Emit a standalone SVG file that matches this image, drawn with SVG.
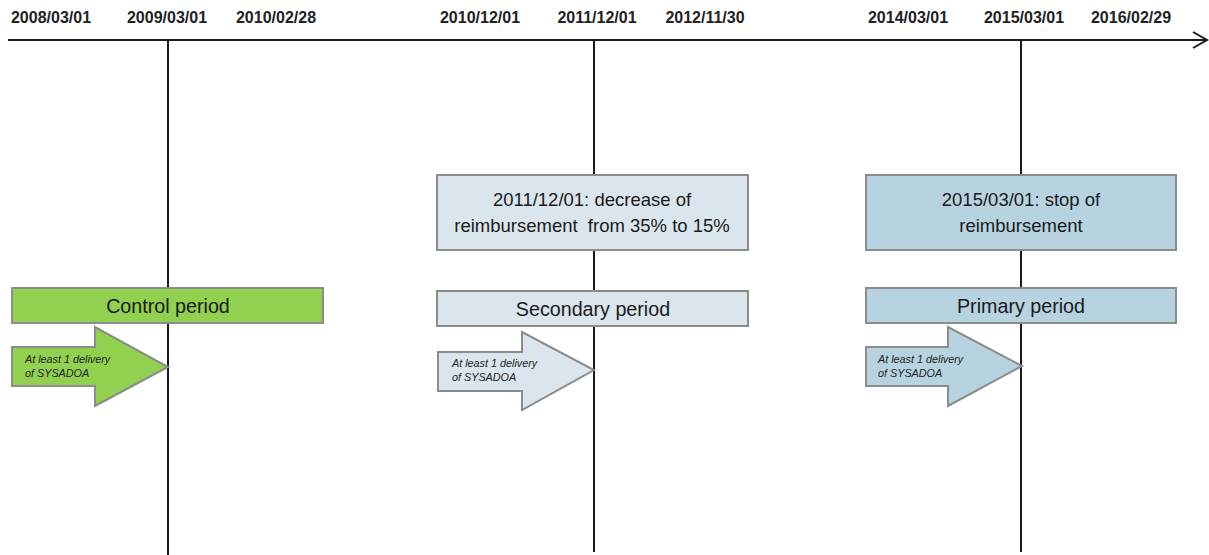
<svg xmlns="http://www.w3.org/2000/svg" width="1209" height="555" viewBox="0 0 1209 555">
<style>
.date{font-family:"Liberation Sans",Arial,sans-serif;font-weight:bold;font-size:16px;fill:#222;text-anchor:middle}
.line{stroke:#1a1a1a;stroke-width:2;fill:none}
.box{stroke:#8c8c8c;stroke-width:2}
.green{fill:#92d050}
.sec{fill:#dae5ed}
.pri{fill:#b7d3e0}
.lbl{font-family:"Liberation Sans",Arial,sans-serif;font-size:19.7px;fill:#1a1a1a;text-anchor:middle}
.evt{font-family:"Liberation Sans",Arial,sans-serif;font-size:18.5px;fill:#1a1a1a;text-anchor:middle}
.it{font-family:"Liberation Sans",Arial,sans-serif;font-style:italic;font-size:10.8px;fill:#222}
</style>
<rect width="1209" height="555" fill="#fff"/>
<g id="connectors">
<line class="line" x1="8" y1="40" x2="1206" y2="40" stroke-width="1.8"/>
<polyline class="line" points="1193,32 1207,40 1193,48" stroke-width="1.8"/>
<line class="line" x1="168" y1="41" x2="168" y2="555"/>
<line class="line" x1="594" y1="41" x2="594" y2="552"/>
<line class="line" x1="1021" y1="41" x2="1021" y2="552"/>
</g>
<g id="dates">
<text class="date" x="51" y="23">2008/03/01</text>
<text class="date" x="167" y="23">2009/03/01</text>
<text class="date" x="276" y="23">2010/02/28</text>
<text class="date" x="480" y="23">2010/12/01</text>
<text class="date" x="597" y="23">2011/12/01</text>
<text class="date" x="705" y="23">2012/11/30</text>
<text class="date" x="908" y="23">2014/03/01</text>
<text class="date" x="1024" y="23">2015/03/01</text>
<text class="date" x="1131" y="23">2016/02/29</text>
</g>
<g id="control-period">
<rect class="box green" x="12" y="288" width="311" height="35"/>
<text class="lbl" x="168" y="313">Control period</text>
</g>
<g id="control-arrow">
<polygon class="box green" points="12,347 95,347 95,327 168,367 95,406 95,386 12,386" stroke-width="1.5"/>
<text class="it" x="25" y="363">At least 1 delivery</text>
<text class="it" x="25" y="377">of SYSADOA</text>
</g>
<g id="decrease-event">
<rect class="box sec" x="437" y="175" width="311" height="75"/>
<text class="evt" x="592" y="206">2011/12/01: decrease of</text>
<text class="evt" x="592" y="232" xml:space="preserve">reimbursement  from 35% to 15%</text>
</g>
<g id="secondary-period">
<rect class="box sec" x="437" y="291" width="311" height="35"/>
<text class="lbl" x="593" y="316">Secondary period</text>
</g>
<g id="secondary-arrow">
<polygon class="box sec" points="438,352 522,352 522,332 594,370 522,410 522,391 438,391" stroke-width="1.5"/>
<text class="it" x="452" y="367">At least 1 delivery</text>
<text class="it" x="452" y="381">of SYSADOA</text>
</g>
<g id="stop-event">
<rect class="box pri" x="866" y="175" width="310" height="75"/>
<text class="evt" x="1021" y="206">2015/03/01: stop of</text>
<text class="evt" x="1021" y="232">reimbursement</text>
</g>
<g id="primary-period">
<rect class="box pri" x="866" y="288" width="310" height="35"/>
<text class="lbl" x="1021" y="313">Primary period</text>
</g>
<g id="primary-arrow">
<polygon class="box pri" points="866,347 948,347 948,327 1022,366 948,406 948,386 866,386" stroke-width="1.5"/>
<text class="it" x="878" y="363">At least 1 delivery</text>
<text class="it" x="878" y="377">of SYSADOA</text>
</g>
</svg>
